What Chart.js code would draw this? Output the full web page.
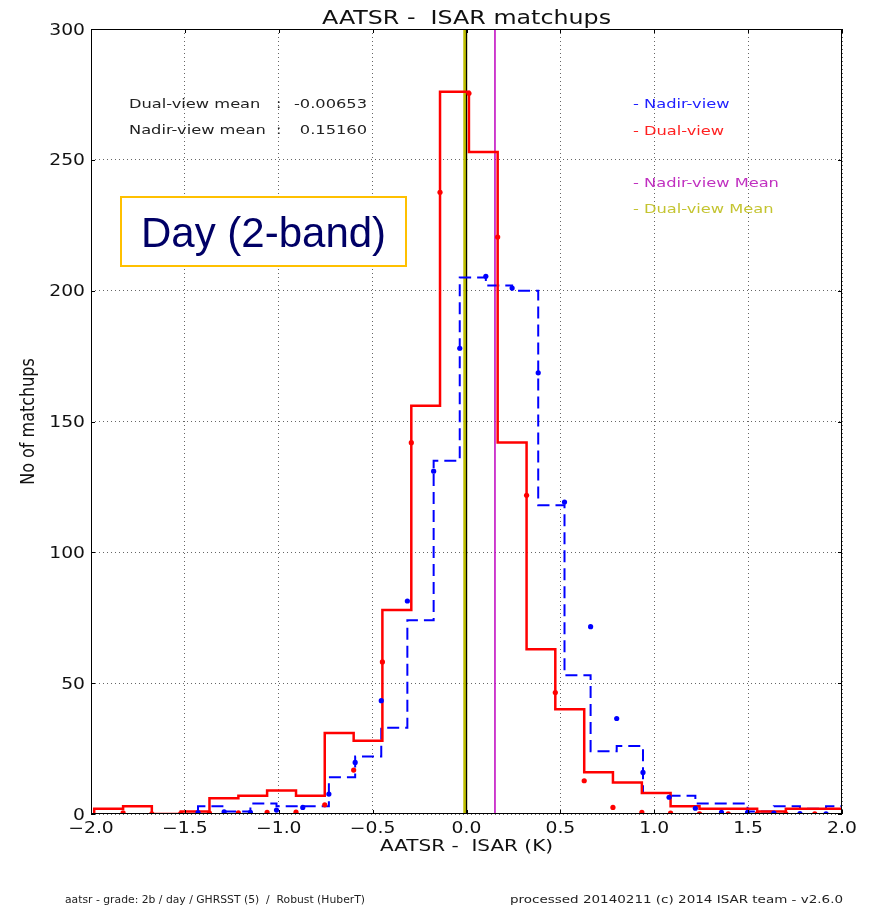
<!DOCTYPE html>
<html>
<head>
<meta charset="utf-8">
<script src="https://cdn.jsdelivr.net/npm/chart.js@4.4.1/dist/chart.umd.min.js"></script>
<style>
  html, body { margin: 0; padding: 0; background: #fff; }
</style>
</head>
<body>
<canvas id="matchups" width="870" height="907"></canvas>
<script>
// bin edges + counts (the two histograms use different binning)
const dualEdges = [-1.983, -1.829, -1.676, -1.522, -1.369, -1.215, -1.062, -0.908, -0.755, -0.601,
  -0.448, -0.294, -0.141, 0.013, 0.166, 0.320, 0.473, 0.627, 0.780, 0.934,
  1.087, 1.241, 1.394, 1.548, 1.701, 1.855, 2.008];
const dualCounts = [2, 3, 0, 1, 6, 7, 9, 7, 31, 28, 78, 156, 276, 253, 142, 63, 40, 16, 12, 8, 3, 2, 2, 1, 2, 2];

const nadirEdges = [-1.988, -1.848, -1.709, -1.569, -1.430, -1.291, -1.151, -1.012, -0.872, -0.733,
  -0.593, -0.454, -0.315, -0.175, -0.036, 0.103, 0.243, 0.382, 0.522, 0.661,
  0.800, 0.940, 1.079, 1.219, 1.358, 1.497, 1.637, 1.776, 1.915, 2.055];
const nadirCounts = [0, 0, 0, 0, 3, 1, 4, 3, 3, 14, 22, 33, 74, 135, 205, 202, 200, 118, 53, 24, 26, 8, 7, 4, 4, 1, 3, 2, 3];

// the dots drawn on the bin edges
const dualDotX = [-1.829, -1.676, -1.522, -1.369, -1.215, -1.062, -0.908, -0.755, -0.601, -0.448, -0.294, -0.141,
  0.013, 0.166, 0.320, 0.473, 0.627, 0.780, 0.934, 1.087, 1.241, 1.394, 1.548, 1.701, 1.855];
const dualDotY = [0.4, 0.1, 0.2, 0.3, 0.4, 0.6, 0.7, 3.5, 16.8, 58.1, 141.9, 237.6,
  275.4, 220.5, 121.8, 46.4, 12.7, 2.5, 0.6, 0.3, 0.1, 0.1, 0.1, 0.1, 0.1];
const nadirDotX = [-1.430, -1.291, -1.151, -1.012, -0.872, -0.733, -0.593, -0.454, -0.315, -0.175, -0.036, 0.103,
  0.243, 0.382, 0.522, 0.661, 0.800, 0.940, 1.079, 1.219, 1.358, 1.497, 1.637, 1.776, 1.915];
const nadirDotY = [0.5, 0.8, 0.6, 1.5, 2.5, 7.6, 19.7, 43.3, 81.4, 131, 178, 205.5,
  201, 168.6, 119.2, 71.6, 36.5, 15.9, 6.4, 2.2, 0.6, 0.6, 0.3, 0.2, 0.1];

const dualMean = -0.00653;
const nadirMean = 0.15160;

const xTicks = [-2.0, -1.5, -1.0, -0.5, 0.0, 0.5, 1.0, 1.5, 2.0];
const yTicks = [0, 50, 100, 150, 200, 250, 300];

// the original plot was stretched sideways on the slide
const SX = 1.25;
const FONT = "'DejaVu Sans', sans-serif";

function stepPoints(edges, counts) {
  const pts = [{ x: edges[0], y: 0 }];
  counts.forEach((c, i) => pts.push({ x: edges[i], y: c }));
  pts.push({ x: edges[edges.length - 1], y: counts[counts.length - 1] });
  pts.push({ x: edges[edges.length - 1], y: 0 });
  return pts;
}

function dots(xs, ys) {
  return xs.map((x, i) => ({ x: x, y: ys[i] }));
}

function vline(x) {
  return [{ x: x, y: 0 }, { x: x, y: 300 }];
}

function txt(ctx, str, x, y, size, color, align, family) {
  ctx.save();
  ctx.font = size + 'px ' + (family || FONT);
  ctx.fillStyle = color;
  ctx.textAlign = align || 'left';
  ctx.textBaseline = 'alphabetic';
  ctx.translate(x, y);
  ctx.scale(SX, 1);
  ctx.fillText(str, 0, 0);
  ctx.restore();
}

// footer strings: squeeze/stretch to the span they take in the picture
function fitText(ctx, str, x0, x1, y) {
  ctx.save();
  ctx.font = '11px ' + FONT;
  ctx.fillStyle = '#222';
  const w = ctx.measureText(str).width;
  ctx.translate(x0, y);
  ctx.scale((x1 - x0) / w, 1);
  ctx.fillText(str, 0, 0);
  ctx.restore();
}

const decorations = {
  id: 'decorations',
  afterDraw(chart) {
    const ctx = chart.ctx;
    const a = chart.chartArea;
    const xs = chart.scales.x, ys = chart.scales.y;

    // frame + inward ticks
    ctx.save();
    ctx.strokeStyle = '#000';
    ctx.lineWidth = 1;
    ctx.strokeRect(a.left + 0.5, a.top + 0.5, a.right - a.left - 1, a.bottom - a.top - 1);
    ctx.beginPath();
    xs.ticks.forEach(t => {
      const px = Math.round(xs.getPixelForValue(t.value)) + 0.5;
      ctx.moveTo(px, a.bottom); ctx.lineTo(px, a.bottom - 4);
      ctx.moveTo(px, a.top); ctx.lineTo(px, a.top + 4);
    });
    ys.ticks.forEach(t => {
      const py = Math.round(ys.getPixelForValue(t.value)) + 0.5;
      ctx.moveTo(a.left, py); ctx.lineTo(a.left + 4, py);
      ctx.moveTo(a.right, py); ctx.lineTo(a.right - 4, py);
    });
    ctx.stroke();
    ctx.restore();

    // tick labels
    xs.ticks.forEach(t => {
      const lab = t.value.toFixed(1).replace('-', '\u2212');
      txt(ctx, lab, xs.getPixelForValue(t.value), a.bottom + 19, 15, '#111', 'center');
    });
    ys.ticks.forEach(t => {
      txt(ctx, String(t.value), a.left - 6, ys.getPixelForValue(t.value) + 5.5, 15, '#111', 'right');
    });

    // titles
    txt(ctx, 'AATSR -  ISAR matchups', (a.left + a.right) / 2, 24, 19, '#111', 'center');
    txt(ctx, 'AATSR -  ISAR (K)', (a.left + a.right) / 2, 851, 16, '#111', 'center');
    ctx.save();
    ctx.font = '16px ' + FONT;
    ctx.fillStyle = '#111';
    ctx.textAlign = 'center';
    ctx.translate(34, (a.top + a.bottom) / 2);
    ctx.scale(SX, 1);
    ctx.rotate(-Math.PI / 2);
    ctx.fillText('No of matchups', 0, 0);
    ctx.restore();

    // mean values
    txt(ctx, 'Dual-view mean', 129, 108, 13, '#222');
    txt(ctx, ':', 276, 108, 13, '#222');
    txt(ctx, dualMean.toFixed(5), 367, 108, 13, '#222', 'right');
    txt(ctx, 'Nadir-view mean', 129, 134, 13, '#222');
    txt(ctx, ':', 276, 134, 13, '#222');
    txt(ctx, nadirMean.toFixed(5), 367, 134, 13, '#222', 'right');

    // legend
    txt(ctx, '- Nadir-view', 633, 108, 13, '#2020ff');
    txt(ctx, '- Dual-view', 633, 135, 13, '#ff2020');
    txt(ctx, '- Nadir-view Mean', 633, 187, 13, '#c030c0');
    txt(ctx, '- Dual-view Mean', 633, 213, 13, '#c4c430');

    // slide label box
    ctx.save();
    ctx.fillStyle = '#fff';
    ctx.fillRect(120, 196, 287, 71);
    ctx.strokeStyle = '#ffc000';
    ctx.lineWidth = 2;
    ctx.strokeRect(121, 197, 285, 69);
    ctx.font = "42px 'Liberation Sans', Arial, sans-serif";
    ctx.fillStyle = '#000066';
    ctx.textBaseline = 'alphabetic';
    ctx.fillText('Day (2-band)', 141, 247);
    ctx.restore();

    // footer
    fitText(ctx, 'aatsr - grade: 2b / day / GHRSST (5)  /  Robust (HuberT)', 65, 365, 903);
    fitText(ctx, 'processed 20140211 (c) 2014 ISAR team - v2.6.0', 510, 843, 903);
  }
};

const gridOpts = { color: '#666', lineWidth: 1, drawTicks: false };
const borderOpts = { display: false, dash: [1, 3] };

new Chart(document.getElementById('matchups'), {
  type: 'scatter',
  data: {
    datasets: [
      { data: dots(dualDotX, dualDotY), backgroundColor: '#ff0000', borderWidth: 0, pointRadius: 2.6 },
      { data: dots(nadirDotX, nadirDotY), backgroundColor: '#0000ff', borderWidth: 0, pointRadius: 2.6 },
      { type: 'line', data: stepPoints(dualEdges, dualCounts), borderColor: '#ff0000', borderWidth: 2.5,
        stepped: 'before', pointRadius: 0, fill: false },
      { type: 'line', data: stepPoints(nadirEdges, nadirCounts), borderColor: '#0000ff', borderWidth: 2,
        borderDash: [12, 6], stepped: 'before', pointRadius: 0, fill: false },
      { type: 'line', data: vline(0), borderColor: '#000', borderWidth: 1.2, pointRadius: 0 },
      { type: 'line', data: vline(dualMean), borderColor: '#bfbf00', borderWidth: 4, pointRadius: 0 },
      { type: 'line', data: vline(nadirMean), borderColor: '#bf00bf', borderWidth: 1.5, pointRadius: 0 }
    ]
  },
  options: {
    responsive: false,
    animation: false,
    events: [],
    layout: { padding: { left: 91, top: 29, right: 28, bottom: 93 } },
    plugins: { legend: { display: false }, tooltip: { enabled: false } },
    scales: {
      x: {
        type: 'linear', min: -2, max: 2,
        afterBuildTicks: s => { s.ticks = xTicks.map(v => ({ value: v })); },
        afterFit: s => { s.height = 0; },
        ticks: { display: false },
        grid: gridOpts,
        border: borderOpts
      },
      y: {
        type: 'linear', min: 0, max: 300,
        afterBuildTicks: s => { s.ticks = yTicks.map(v => ({ value: v })); },
        afterFit: s => { s.width = 0; },
        ticks: { display: false },
        grid: gridOpts,
        border: borderOpts
      }
    }
  },
  plugins: [decorations]
});
</script>
</body>
</html>
